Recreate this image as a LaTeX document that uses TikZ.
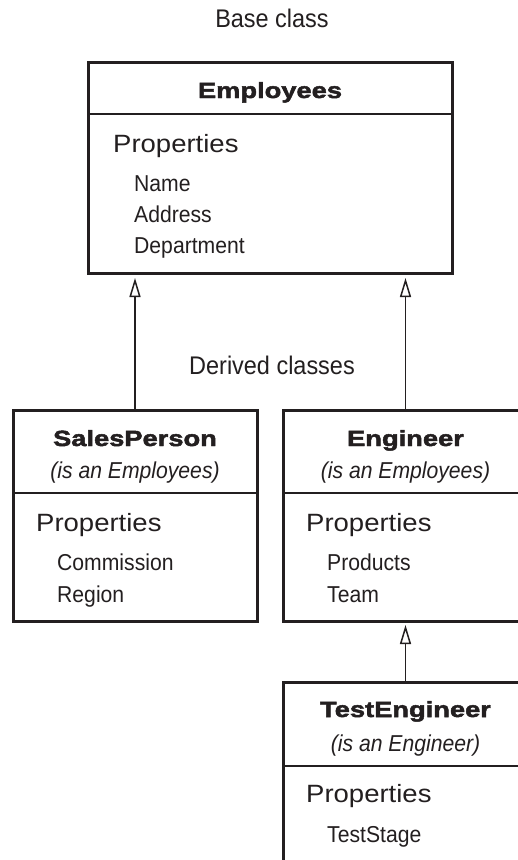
\documentclass[tikz,border=0pt]{standalone}
\usepackage{fontspec}
\setmainfont{Liberation Sans}
\newfontfamily\condfont[FakeStretch=0.92]{Liberation Sans}
\newfontfamily\propfont[FakeStretch=1.1]{Liberation Sans}
\newfontfamily\heavyfont[FakeStretch=1.24,FakeBold=2.2]{Liberation Sans}
\usetikzlibrary{arrows.meta}
\definecolor{ink}{HTML}{231F20}
\begin{document}
\begin{tikzpicture}[x=1pt,y=-1pt,
  classbox/.style={draw=ink, line width=3pt, rectangle, inner sep=0pt, outer sep=0pt},
  titletext/.style={anchor=base, text=ink, inner sep=0pt, font=\heavyfont\bfseries\fontsize{22}{26}\selectfont},
  istext/.style={anchor=base, text=ink, inner sep=0pt, font=\condfont\itshape\fontsize{23}{27}\selectfont},
  proptext/.style={anchor=base west, text=ink, inner sep=0pt, font=\propfont\fontsize{25}{29}\selectfont},
  itemtext/.style={anchor=base west, text=ink, inner sep=0pt, font=\condfont\fontsize{23}{27}\selectfont},
  captext/.style={anchor=base, text=ink, inner sep=0pt, font=\condfont\fontsize{25.5}{29}\selectfont},
  sepline/.style={draw=ink, line width=1.5pt},
  inherit/.style={draw=ink, line width=1.5pt, -{Triangle[open, length=19pt, width=11pt, line width=1.5pt]}}
]
\useasboundingbox (0,0) rectangle (518,860);
\clip (0,0) rectangle (518,860);
\fill[white] (0,0) rectangle (518,860);

% captions
\node[captext] (basecap) at (272,27) {Base class};
\node[captext] (dercap) at (272,374) {Derived classes};

% Employees
\node[classbox, minimum width=364pt, minimum height=211pt] (emp) at (270,167.5) {};
\draw[sepline] (emp.west |- 0,114) -- (emp.east |- 0,114);
\node[titletext] (empT) at (270,98) {Employees};
\node[proptext] (empP) at (113,152) {Properties};
\node[itemtext] (empA) at (134,191) {Name};
\node[itemtext] (empB) at (134,222) {Address};
\node[itemtext] (empC) at (134,253) {Department};

% SalesPerson
\node[classbox, minimum width=244pt, minimum height=211pt] (sp) at (135,515.5) {};
\draw[sepline] (sp.west |- 0,493) -- (sp.east |- 0,493);
\node[titletext] (spT) at (135,446) {SalesPerson};
\node[istext] (spI) at (135,478) {(is an Employees)};
\node[proptext] (spP) at (36,531) {Properties};
\node[itemtext] (spA) at (57,570) {Commission};
\node[itemtext] (spB) at (57,602) {Region};

% Engineer
\node[classbox, minimum width=245pt, minimum height=211pt] (eng) at (405.5,515.5) {};
\draw[sepline] (eng.west |- 0,493) -- (eng.east |- 0,493);
\node[titletext] (engT) at (405.5,446) {Engineer};
\node[istext] (engI) at (405.5,478) {(is an Employees)};
\node[proptext] (engP) at (306,531) {Properties};
\node[itemtext] (engA) at (327,570) {Products};
\node[itemtext] (engB) at (327,602) {Team};

% TestEngineer
\node[classbox, minimum width=245pt, minimum height=220pt] (te) at (405.5,792) {};
\draw[sepline] (te.west |- 0,766) -- (te.east |- 0,766);
\node[titletext] (teT) at (405.5,717) {TestEngineer};
\node[istext] (teI) at (405.5,751) {(is an Engineer)};
\node[proptext] (teP) at (306,802) {Properties};
\node[itemtext] (teA) at (327,842) {TestStage};

% inheritance arrows
\draw[inherit, shorten >=5pt] (sp.north) -- (sp.north |- emp.south);
\draw[inherit, shorten >=5pt] (eng.north) -- (eng.north |- emp.south);
\draw[inherit, shorten >=4pt] (te.north) -- (eng.south);
\end{tikzpicture}
\end{document}
